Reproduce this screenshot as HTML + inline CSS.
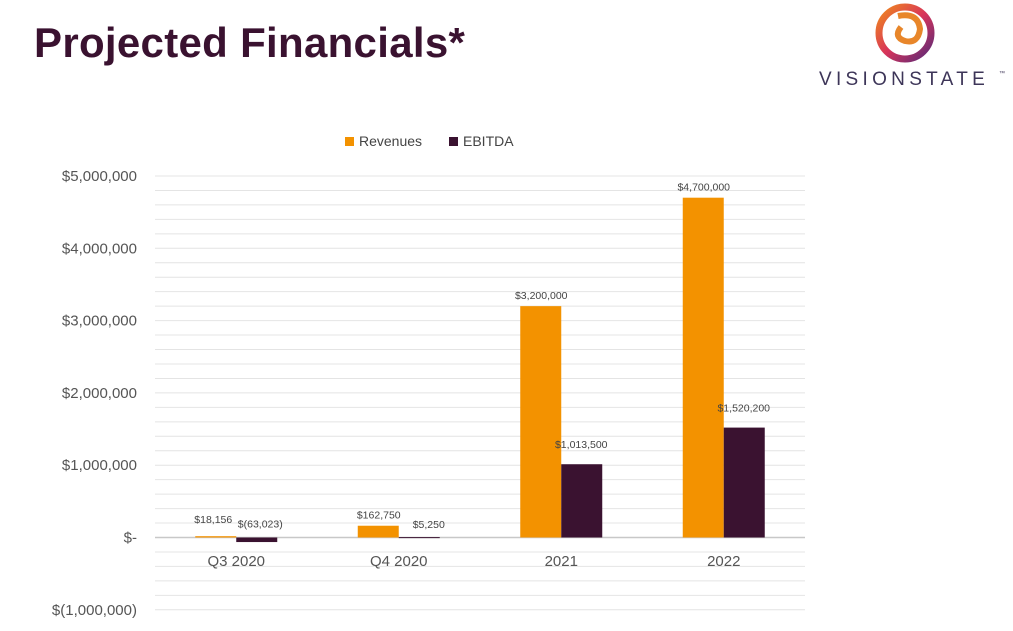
<!DOCTYPE html>
<html><head><meta charset="utf-8"><style>
body{margin:0;background:#fff;width:1013px;height:631px;overflow:hidden;position:relative;font-family:"Liberation Sans",sans-serif}
#title{position:absolute;left:34px;top:19px;font-size:42px;font-weight:bold;color:#3a1230;letter-spacing:0.3px}
</style></head><body>
<div id="title">Projected Financials*</div>
<svg style="position:absolute;left:810px;top:0" width="200" height="95">
<defs><linearGradient id="lg" x1="0" y1="0" x2="1" y2="1"><stop offset="0" stop-color="#f08a1c"/><stop offset="0.5" stop-color="#d8345a"/><stop offset="1" stop-color="#5a2a78"/></linearGradient></defs>
<circle cx="95" cy="33" r="26" fill="none" stroke="url(#lg)" stroke-width="7"/>
<path d="M88 16 Q108 12 110 29 Q108 44 95 41 Q83 37 91 27" fill="none" stroke="#e8862a" stroke-width="6"/>
<text x="9" y="85" font-size="19" fill="#3d3558" letter-spacing="4.3" font-family="Liberation Sans,sans-serif">VISIONSTATE</text>
<text x="189" y="75" font-size="6" fill="#3d3558">™</text>
</svg>
<svg id="chart" style="position:absolute;left:0;top:0" width="1013" height="631"></svg>
<script>
const categories=["Q3 2020","Q4 2020","2021","2022"];
const revenues=[18156,162750,3200000,4700000];
const ebitda=[-63023,5250,1013500,1520200];
const revLabels=["$18,156","$162,750","$3,200,000","$4,700,000"];
const ebLabels=["$(63,023)","$5,250","$1,013,500","$1,520,200"];
const yTicks=[5000000,4000000,3000000,2000000,1000000,0,-1000000];
const yTickLabels=["$5,000,000","$4,000,000","$3,000,000","$2,000,000","$1,000,000","$-","$(1,000,000)"];
const svg=document.getElementById('chart');const NS="http://www.w3.org/2000/svg";
const x0=155,x1=805,band=(x1-x0)/categories.length;
const y=v=>537.5-v*72.3/1000000;
function el(t,a,txt){const e=document.createElementNS(NS,t);for(const k in a)e.setAttribute(k,a[k]);if(txt!==undefined)e.textContent=txt;svg.appendChild(e);return e;}
for(let v=-1000000;v<=5000000;v+=200000){const g=el('line',{x1:x0,x2:x1,y1:y(v),y2:y(v),stroke:v===0?'#c8c8c8':'#e4e4e4','stroke-width':v===0?1.5:1});

}
yTicks.forEach((v,i)=>{const t=el('text',{x:137,y:y(v)+5,'text-anchor':'end','font-size':15,fill:'#555'},yTickLabels[i]);

});
categories.forEach((c,i)=>{const cx=x0+band*(i+0.5);
const t=el('text',{x:cx,y:566,'text-anchor':'middle','font-size':15,fill:'#555'},c);


const r=revenues[i],e=ebitda[i];
const b1=el('rect',{x:cx-41,y:Math.min(y(r),y(0)),width:41,height:Math.max(Math.abs(y(0)-y(r)),1),fill:'#f39200'});


const b2=el('rect',{x:cx,y:Math.min(y(e),y(0)),width:41,height:Math.max(Math.abs(y(0)-y(e)),1),fill:'#3a1230'});


const l1=el('text',{x:cx-20-(i===0?3:0),y:Math.min(y(r),y(0))-7-(i===0?6:0),'text-anchor':'middle','font-size':10.5,fill:'#444'},revLabels[i]);


const l2=el('text',{x:cx+20+(i===1?10:i===0?4:0),y:(e<0?y(0):Math.min(y(e),y(0)))-(i>=2?16:i===0?10:9),'text-anchor':'middle','font-size':10.5,fill:'#444'},ebLabels[i]);

});
const lg=[["Revenues","#f39200",345],["EBITDA","#3a1230",449]];
lg.forEach(([n,c,lx])=>{const r=el('rect',{x:lx,y:137,width:9,height:9,fill:c});


const t=el('text',{x:lx+14,y:146,'font-size':14,fill:'#444'},n);

});
</script>
</body></html>
